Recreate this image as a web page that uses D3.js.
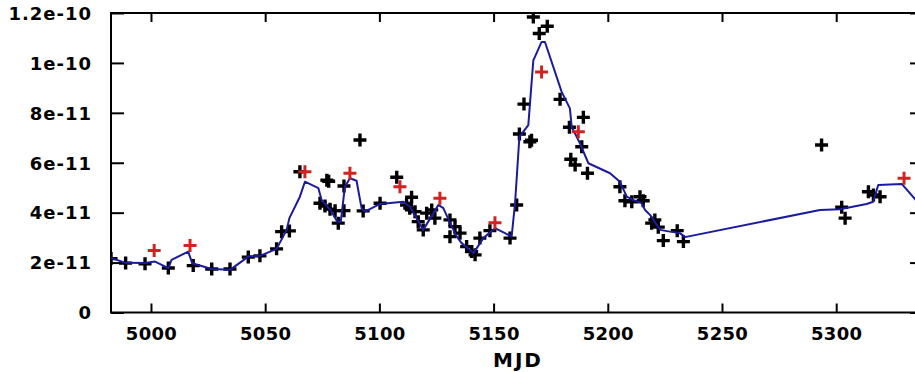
<!DOCTYPE html>
<html><head><meta charset="utf-8">
<script src="https://cdn.jsdelivr.net/npm/d3@7"></script>
<style>body{margin:0;background:#fff}svg{display:block}text{font-family:"DejaVu Sans",sans-serif;font-weight:bold;fill:#000}</style>
</head><body>
<svg id="c" width="915" height="372"></svg>
<script>
// Data (flux in units of 1e-11)
const blackMJD = [4982.5,4988.9,4997.4,5007.6,5018.5,5026.6,5034.6,5042.6,5047.7,5055.0,5057.2,5060.6,5065.2,5077.0,5077.8,5074.0,5076.2,5078.4,5080.6,5082.0,5084.5,5084.5,5091.5,5092.9,5100.3,5107.6,5111.9,5113.3,5114.1,5115.6,5117.0,5119.2,5120.7,5122.9,5124.3,5130.9,5133.1,5130.9,5135.3,5138.2,5140.4,5141.9,5144.0,5148.4,5157.2,5160.1,5161.3,5165.9,5166.6,5163.3,5167.4,5170.0,5173.5,5179.1,5183.2,5189.3,5188.6,5183.8,5185.7,5191.1,5205.3,5207.5,5210.5,5214.1,5215.5,5219.2,5220.6,5222.1,5224.3,5230.4,5233.1,5293.6,5302.4,5303.9,5314.1,5316.3,5319.2];
const blackFlux = [2.16,1.98,1.95,1.78,1.88,1.74,1.74,2.22,2.27,2.55,3.24,3.27,5.64,5.30,5.26,4.38,4.27,4.14,4.08,3.58,4.08,5.07,6.91,4.07,4.38,5.42,4.31,4.18,4.62,4.04,3.64,3.31,3.98,4.11,3.78,3.71,3.44,3.04,3.18,2.64,2.44,2.31,2.98,3.28,2.98,4.31,7.15,6.84,6.90,8.35,11.84,11.18,11.47,8.54,7.42,7.82,6.64,6.14,5.91,5.58,5.04,4.48,4.44,4.64,4.48,3.58,3.71,3.42,2.88,3.28,2.84,6.71,4.22,3.78,4.84,4.71,4.64];
const redMJD = [5001.4,5017.1,5067.4,5087.1,5109.0,5126.5,5150.6,5171.0,5187.1,5329.7];
const redFlux = [2.48,2.68,5.64,5.58,5.04,4.58,3.60,9.64,7.24,5.38];
const modelMJD = [4982.5,4988.9,4997.4,5001.8,5007.6,5009.0,5016.3,5018.1,5026.6,5034.6,5042.6,5047.7,5055.0,5059.4,5060.6,5065.2,5067.4,5073.3,5074.7,5079.1,5081.6,5083.1,5084.9,5087.1,5090.0,5092.2,5093.7,5100.3,5110.5,5113.4,5116.3,5119.2,5125.8,5128.0,5131.7,5133.9,5136.0,5141.2,5145.5,5150.6,5155.0,5157.9,5159.4,5161.3,5165.2,5167.4,5168.1,5171.0,5172.5,5179.8,5183.4,5184.2,5187.8,5191.5,5201.0,5205.3,5208.3,5211.1,5214.8,5216.3,5218.5,5222.9,5227.2,5231.6,5233.8,5292.9,5301.6,5313.3,5316.2,5318.4,5328.7,5334.8,5338.0];
const modelFlux = [2.19,1.99,1.98,2.04,1.78,2.11,2.44,1.97,1.74,1.71,2.24,2.27,2.55,3.31,3.78,4.64,5.24,4.98,4.51,4.04,3.64,3.64,5.04,5.38,5.28,4.18,4.04,4.35,4.44,4.24,3.78,3.31,4.31,4.18,3.44,3.04,2.78,2.38,2.98,3.38,3.18,3.04,4.38,7.04,7.51,10.10,10.24,10.84,10.84,8.84,8.18,7.44,6.78,5.98,5.58,5.24,4.64,4.51,4.38,4.11,3.91,3.31,3.24,3.18,3.02,4.11,4.14,4.35,4.44,5.11,5.15,4.51,4.10];
const xTicks = [5000,5050,5100,5150,5200,5250,5300];
const yTicks = [0,2e-11,4e-11,6e-11,8e-11,1e-10,1.2e-10];
const yTickLabels = ["0","2e-11","4e-11","6e-11","8e-11","1e-10","1.2e-10"];
const UNIT = 1e-11;

const L=111,R=923,T=13,B=312.5;
const svg=d3.select("#c");
const x=d3.scaleLinear().domain([4982.5,5338]).range([L,R]);
const y=d3.scaleLinear().domain([0,1.2e-10]).range([B,T]);

svg.append("defs").append("clipPath").attr("id","clip").append("rect")
  .attr("x",L).attr("y",T).attr("width",R-L).attr("height",B-T);

// axes
const xb=svg.append("g").attr("transform",`translate(0,${B})`)
  .call(d3.axisBottom(x).tickValues(xTicks).tickSize(-9).tickPadding(15).tickFormat(d3.format("d")));
const xt=svg.append("g").attr("transform",`translate(0,${T})`)
  .call(d3.axisTop(x).tickValues(xTicks).tickSize(-9).tickFormat(""));
const yl=svg.append("g").attr("transform",`translate(${L},0)`)
  .call(d3.axisLeft(y).tickValues(yTicks).tickSize(-13).tickPadding(19).tickFormat((d,i)=>yTickLabels[i]));
const yr=svg.append("g").attr("transform",`translate(${R},0)`)
  .call(d3.axisRight(y).tickValues(yTicks).tickSize(-13).tickFormat(""));
[xb,xt,yl,yr].forEach(g=>{
  g.select(".domain").remove();
  g.selectAll(".tick line").attr("stroke","#000").attr("stroke-width",2);
  g.selectAll("text").attr("font-size",18).attr("font-family","DejaVu Sans").attr("font-weight","bold").attr("fill","#000");
});
yl.selectAll("text").attr("dy","0.35em").attr("letter-spacing","1px");
xb.selectAll("text").attr("letter-spacing","0.3px");
svg.append("rect").attr("x",L).attr("y",T).attr("width",R-L).attr("height",B-T)
  .attr("fill","none").attr("stroke","#000").attr("stroke-width",2);

svg.append("text").attr("x",(L+R)/2+1).attr("y",367).attr("text-anchor","middle")
  .attr("font-size",20).attr("letter-spacing","2px").text("MJD");

const plot=svg.append("g").attr("clip-path","url(#clip)");
const plus="M-6.5,0H6.5M0,-6.5V6.5";

plot.selectAll(".bp").data(blackMJD).join("path").attr("class","bp")
  .attr("d",plus).attr("transform",(d,i)=>`translate(${x(d)},${y(blackFlux[i]*UNIT)})`)
  .attr("stroke","#000").attr("stroke-width",3.4).attr("fill","none");

const line=d3.line().x((d,i)=>x(d)).y((d,i)=>y(modelFlux[i]*UNIT));
plot.append("path").attr("d",line(modelMJD)).attr("fill","none")
  .attr("stroke","#1b1b9e").attr("stroke-width",2).attr("stroke-linejoin","round");

plot.selectAll(".rp").data(redMJD).join("path").attr("class","rp")
  .attr("d",plus).attr("transform",(d,i)=>`translate(${x(d)},${y(redFlux[i]*UNIT)})`)
  .attr("stroke","#d42222").attr("stroke-width",3).attr("fill","none");
</script>
</body></html>
